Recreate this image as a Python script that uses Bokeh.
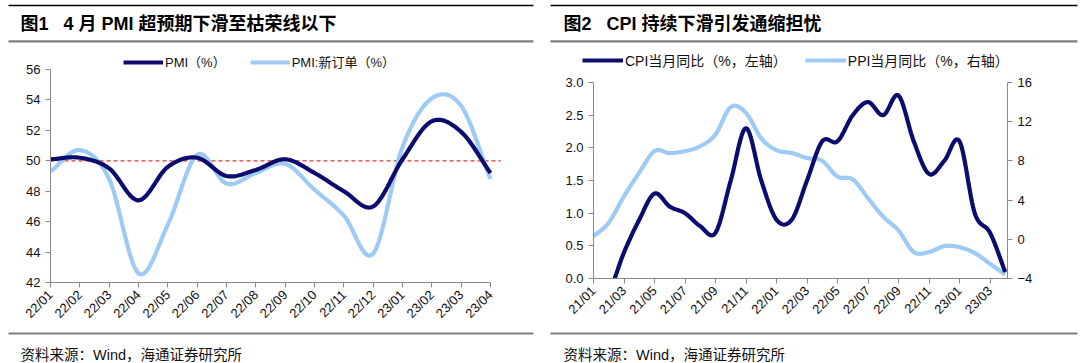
import numpy as np
from bokeh.plotting import figure
from bokeh.layouts import row
from bokeh.models import (Range1d, LinearAxis, FixedTicker, Legend, LegendItem, Label,
                          BoxAnnotation, NumeralTickFormatter)
from bokeh.embed import file_html
from bokeh.resources import INLINE

# ---------------- data ----------------
pmi_months = ["22/01", "22/02", "22/03", "22/04", "22/05", "22/06", "22/07", "22/08",
              "22/09", "22/10", "22/11", "22/12", "23/01", "23/02", "23/03", "23/04"]
pmi = [50.1, 50.2, 49.5, 47.4, 49.6, 50.2, 49.0, 49.4, 50.1, 49.2, 48.0, 47.0, 50.1, 52.6, 51.9, 49.2]
pmi_new_orders = [49.3, 50.7, 48.8, 42.6, 45.8, 50.4, 48.5, 49.2, 49.8, 48.1, 46.4, 43.9, 50.9, 54.1, 53.6, 48.8]
pmi_threshold = 50
pmi_ticks = [42, 44, 46, 48, 50, 52, 54, 56]

cpi_months = ["21/01", "21/02", "21/03", "21/04", "21/05", "21/06", "21/07", "21/08", "21/09",
              "21/10", "21/11", "21/12", "22/01", "22/02", "22/03", "22/04", "22/05", "22/06",
              "22/07", "22/08", "22/09", "22/10", "22/11", "22/12", "23/01", "23/02", "23/03", "23/04"]
cpi = [-0.3, -0.2, 0.4, 0.9, 1.3, 1.1, 1.0, 0.8, 0.7, 1.5, 2.3, 1.5, 0.9, 0.9, 1.5, 2.1, 2.1, 2.5,
       2.7, 2.5, 2.8, 2.1, 1.6, 1.8, 2.1, 1.0, 0.7, 0.1]
ppi = [0.3, 1.7, 4.4, 6.8, 9.0, 8.8, 9.0, 9.5, 10.7, 13.5, 12.9, 10.3, 9.1, 8.8, 8.3, 8.0, 6.4, 6.1,
       4.2, 2.3, 0.9, -1.3, -1.3, -0.7, -0.8, -1.4, -2.5, -3.6]
cpi_ticks = [0.0, 0.5, 1.0, 1.5, 2.0, 2.5, 3.0]
ppi_ticks = [-4, 0, 4, 8, 12, 16]

title1 = "图1\u00a0\u00a0 4 月 PMI 超预期下滑至枯荣线以下"
title2 = "图2\u00a0\u00a0 CPI 持续下滑引发通缩担忧"
source = "资料来源：Wind，海通证券研究所"

# ---------------- style / layout (pixels) ----------------
DARK = "#0c0c6e"
LIGHT = "#9dcbf6"
AXIS = "#8a8a8a"
FONT = "Liberation Sans, Noto Sans CJK SC"
W, H = 540, 362


def smooth(ys, n=16):
    """Smoothed curve through the points (like Excel's smoothed line)."""
    ys = np.asarray(ys, float)
    m = len(ys)
    xs_out, ys_out = [], []
    for i in range(m - 1):
        p0 = ys[max(i - 1, 0)]; p1 = ys[i]; p2 = ys[i + 1]; p3 = ys[min(i + 2, m - 1)]
        x0 = max(i - 1, 0); x3 = min(i + 2, m - 1)
        m1 = (p2 - p0) / (i + 1 - x0); m2 = (p3 - p1) / (x3 - i)
        for t in np.linspace(0, 1, n, endpoint=False):
            h00 = 2 * t**3 - 3 * t**2 + 1; h10 = t**3 - 2 * t**2 + t
            h01 = -2 * t**3 + 3 * t**2; h11 = t**3 - t**2
            xs_out.append(i + t)
            ys_out.append(h00 * p1 + h10 * m1 + h01 * p2 + h11 * m2)
    xs_out.append(m - 1); ys_out.append(ys[-1])
    return xs_out, ys_out


def clip_below(xs, ys, floor):
    """Hide the part of a curve below the axis minimum (as the axis clips it)."""
    ox, oy = [], []
    for i in range(len(xs)):
        if ys[i] >= floor:
            if i > 0 and ys[i - 1] < floor:
                f = (floor - ys[i - 1]) / (ys[i] - ys[i - 1])
                ox.append(xs[i - 1] + f * (xs[i] - xs[i - 1])); oy.append(floor)
            ox.append(xs[i]); oy.append(ys[i])
        else:
            if i > 0 and ys[i - 1] >= floor:
                f = (ys[i - 1] - floor) / (ys[i - 1] - ys[i])
                ox.append(xs[i - 1] + f * (xs[i] - xs[i - 1])); oy.append(floor)
                ox.append(np.nan); oy.append(np.nan)
    return ox, oy


def x_range_for(v0, px0, v1, px1):
    s = (v1 - v0) / (px1 - px0)
    return Range1d(v0 - px0 * s, v0 + (W - px0) * s)


def y_range_for(v_top, py_top, v_bot, py_bot):
    s = (v_top - v_bot) / (py_bot - py_top)
    return Range1d(v_bot - (H - py_bot) * s, v_top + py_top * s)


def style_axis(ax, size="13px"):
    ax.axis_line_color = AXIS
    ax.major_tick_line_color = AXIS
    ax.minor_tick_line_color = None
    ax.major_tick_in = 0
    ax.major_tick_out = 5
    ax.major_label_text_font = FONT
    ax.major_label_text_font_size = size
    ax.major_label_text_color = "#111111"


def base_figure(xr, yr):
    p = figure(width=W, height=H, output_backend="svg", toolbar_location=None, title=None,
               x_range=xr, y_range=yr, min_border_left=0, min_border_right=0,
               min_border_top=0, min_border_bottom=0)
    p.outline_line_color = None
    p.grid.grid_line_color = None
    return p


def decorate(p, rule_x0, rule_x1, text_x, title):
    for (py, col, w) in [(5.0, "#000000", 1.6), (40.8, "#7f7f7f", 2.2), (333.0, "#7f7f7f", 2.2)]:
        p.add_layout(BoxAnnotation(left=rule_x0, right=rule_x1, top=H - py + w / 2, bottom=H - py - w / 2,
                                   left_units="screen", right_units="screen",
                                   top_units="screen", bottom_units="screen",
                                   fill_color=col, fill_alpha=1, line_color=None, level="overlay"))
    p.add_layout(Label(x=text_x, y=H - 23, x_units="screen", y_units="screen", text=title,
                       text_font=FONT, text_font_size="18px", text_font_style="bold",
                       text_baseline="middle", text_align="left", text_color="#000000"))
    p.add_layout(Label(x=text_x, y=H - 354, x_units="screen", y_units="screen", text=source,
                       text_font=FONT, text_font_size="14.5px",
                       text_baseline="middle", text_align="left", text_color="#111111"))


# ---------------- chart 1 ----------------
n1 = len(pmi_months)
p1 = base_figure(x_range_for(0, 50, n1 - 1, 490), y_range_for(pmi_ticks[-1], 69, pmi_ticks[0], 282))
p1.xaxis.fixed_location = pmi_ticks[0]
p1.xaxis.bounds = (0, n1 - 1)
p1.yaxis.fixed_location = 0
p1.yaxis.bounds = (pmi_ticks[0], pmi_ticks[-1])
p1.xaxis.ticker = FixedTicker(ticks=list(range(n1)))
p1.xaxis.major_label_overrides = {i: m for i, m in enumerate(pmi_months)}
p1.xaxis.major_label_orientation = np.pi / 4
p1.yaxis.ticker = FixedTicker(ticks=pmi_ticks)
style_axis(p1.xaxis[0], "13px")
style_axis(p1.yaxis[0], "13px")

p1.line([0, n1 - 0.65], [pmi_threshold, pmi_threshold], line_color="#e3342f", line_dash="4 3", line_width=1.3)
x, y = smooth(pmi_new_orders)
r_no = p1.line(x, y, line_color=LIGHT, line_width=4.2)
x, y = smooth(pmi)
r_pmi = p1.line(x, y, line_color=DARK, line_width=4.2)

leg1 = Legend(items=[LegendItem(label="PMI（%）", renderers=[r_pmi]),
                     LegendItem(label="PMI:新订单（%）", renderers=[r_no])],
              orientation="horizontal", location=(123, H - 71),
              glyph_width=40, glyph_height=16, label_height=16, label_standoff=2, spacing=24,
              padding=0, margin=0, border_line_color=None, background_fill_alpha=0,
              label_text_font=FONT, label_text_font_size="13px", label_text_color="#111111")
p1.add_layout(leg1, "center")
decorate(p1, 8, 533, 20, title1)

# ---------------- chart 2 ----------------
n2 = len(cpi_months)
px_per_month = 15.25
x_end = (n2 - 1) + (467 - (53 + (n2 - 1) * px_per_month)) / px_per_month
p2 = base_figure(x_range_for(0, 53, n2 - 1, 53 + (n2 - 1) * px_per_month),
                 y_range_for(cpi_ticks[-1], 82, cpi_ticks[0], 278))
p2.extra_y_ranges = {"ppi": y_range_for(ppi_ticks[-1], 82, ppi_ticks[0], 278)}
p2.xaxis.fixed_location = cpi_ticks[0]
p2.xaxis.bounds = (0, x_end)
p2.yaxis.fixed_location = 0
p2.yaxis.bounds = (cpi_ticks[0], cpi_ticks[-1])
ax_r = LinearAxis(y_range_name="ppi", ticker=FixedTicker(ticks=ppi_ticks),
                  fixed_location=x_end, bounds=(ppi_ticks[0], ppi_ticks[-1]))
p2.add_layout(ax_r, "right")
p2.xaxis.ticker = FixedTicker(ticks=list(range(0, n2, 2)))
p2.xaxis.major_label_overrides = {i: m for i, m in enumerate(cpi_months)}
p2.xaxis.major_label_orientation = np.pi / 4
p2.yaxis[0].ticker = FixedTicker(ticks=cpi_ticks)
p2.yaxis[0].formatter = NumeralTickFormatter(format="0.0")
style_axis(p2.xaxis[0], "13px")
style_axis(p2.yaxis[0], "13px")
style_axis(ax_r, "13px")

x, y = smooth(ppi)
r_ppi = p2.line(x, y, line_color=LIGHT, line_width=4.2, y_range_name="ppi")
x, y = smooth(cpi)
x, y = clip_below(x, y, cpi_ticks[0])
r_cpi = p2.line(x, y, line_color=DARK, line_width=4.2)

leg2 = Legend(items=[LegendItem(label="CPI当月同比（%，左轴）", renderers=[r_cpi]),
                     LegendItem(label="PPI当月同比（%，右轴）", renderers=[r_ppi])],
              orientation="horizontal", location=(42, H - 70),
              glyph_width=41, glyph_height=18, label_height=18, label_standoff=2, spacing=18,
              padding=0, margin=0, border_line_color=None, background_fill_alpha=0,
              label_text_font=FONT, label_text_font_size="14px", label_text_color="#111111")
p2.add_layout(leg2, "center")
decorate(p2, 10, 537, 23, title2)

layout = row(p1, p2, spacing=0)
open("out.html", "w").write(file_html(layout, INLINE))
